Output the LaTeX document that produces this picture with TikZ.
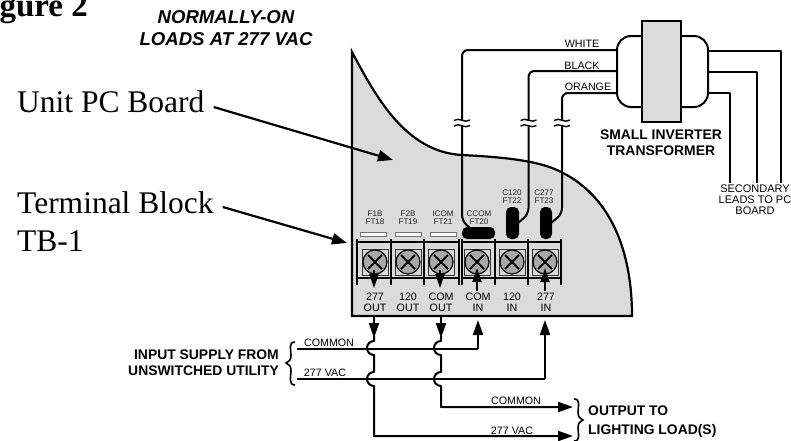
\documentclass[tikz,border=0pt]{standalone}
\usepackage{fontspec}
\setmainfont{Liberation Serif}
\setsansfont{Liberation Sans}
\usepackage{xcolor}
\usepackage{tikz}
\usetikzlibrary{arrows.meta, calc}
\definecolor{boardgray}{gray}{0.86}
\definecolor{screwgray}{gray}{0.66}
\newcommand{\fsize}[1]{\fontsize{#1}{#1}\selectfont}
\begin{document}
\begin{tikzpicture}[
    x=1pt, y=-1pt,
    wire/.style={line width=2pt, black, line join=round},
    feed/.style={wire, -{Triangle[length=15pt,width=10pt]}},
    callout/.style={line width=2.2pt, -{Triangle[length=15pt,width=11pt]}},
    bigtext/.style={font=\fsize{31.5}, anchor=base west, inner sep=0pt},
    heading/.style={font=\sffamily\bfseries\fsize{13.9}, inner sep=0pt, align=center},
    wirelabel/.style={font=\sffamily\fsize{10.7}, inner sep=0pt},
    termlabel/.style={font=\sffamily\fsize{10.7}, inner sep=0pt, align=center},
    ftlabel/.style={font=\sffamily\fsize{8.1}, text=black!85, inner sep=0pt, align=center},
    slot/.style={draw=black!55, line width=0.6pt, fill=white},
    blob/.style={fill=black, rounded corners=5pt},
    screw/.style={circle, draw=black, line width=1.2pt, fill=screwgray, minimum size=24pt, inner sep=0pt,
        path picture={\draw[line width=1.9pt] ($(path picture bounding box.center)+(-7,-7)$) -- ($(path picture bounding box.center)+(7,7)$)
            ($(path picture bounding box.center)+(7,-7)$) -- ($(path picture bounding box.center)+(-7,7)$);}},
    pad/.style={draw=black!80, line width=0.8pt, fill=black!15, minimum size=26pt, inner sep=0pt},
    post/.style={line width=2.8pt}
]
    \useasboundingbox (0,0) rectangle (791,440);
    \clip (0,0) rectangle (791,440);

    % board
    \draw[line width=2.2pt, fill=boardgray, line join=miter]
        (352,316) -- (352,52) .. controls (375,95) and (405,152) .. (462,155)
        .. controls (500,157) and (540,160) .. (563,173)
        .. controls (610,197) and (632,250) .. (632,316) -- cycle;

    % terminal block
    \foreach \tname/\tx in {a/375, b/408, c/441, d/477, e/512, f/545} {
        \node[pad] (pad\tname) at (\tx,262) {};
        \node[screw] (screw\tname) at (\tx,262) {};
    }
    \draw[line width=2.2pt] (357,242) -- (459,242) (357,278) -- (459,278) (462,242) -- (561,242) (462,278) -- (561,278);
    \foreach \px in {357,391,424,459,462,495,528,561}
        \draw[post] (\px,239) -- (\px,285);

    \foreach \sx in {373,408,443}
        \draw[slot] (\sx-13,232) rectangle (\sx+13,236);

    \node[ftlabel] (ftb) at (375,218) {F1B\\FT18};
    \node[ftlabel] (ftc) at (408,218) {F2B\\FT19};
    \node[ftlabel] (ftd) at (443,218) {ICOM\\FT21};
    \node[ftlabel] (fte) at (479,218) {CCOM\\FT20};
    \node[ftlabel] (ftf) at (512,197) {C120\\FT22};
    \node[ftlabel] (ftg) at (544,197) {C277\\FT23};

    \fill[blob] (462,227) rectangle (495,239);
    \fill[blob] (506,207) rectangle (519,239);
    \fill[blob] (540,207) rectangle (552,239);

    \node[termlabel] (outa) at (375,302) {277\\OUT};
    \node[termlabel] (outb) at (408,302) {120\\OUT};
    \node[termlabel] (outc) at (441,302) {COM\\OUT};
    \node[termlabel] (ina) at (478,302) {COM\\IN};
    \node[termlabel] (inb) at (512,302) {120\\IN};
    \node[termlabel] (inc) at (546,302) {277\\IN};

    % transformer
    \draw[wire, rounded corners=14pt] (642,36) -- (617,36) -- (617,107) -- (642,107);
    \draw[wire, rounded corners=14pt] (681,36) -- (708,36) -- (708,107) -- (681,107);
    \node[draw, line width=2pt, fill=boardgray, minimum width=39pt, minimum height=101pt, inner sep=0pt] (core) at (661.5,71.5) {};
    \node[heading] (xfmr) at (661,142.5) {SMALL INVERTER\\[2.5pt]TRANSFORMER};

    \draw[wire, rounded corners=6pt] (617,50) -- (462,50) -- (462,221) -- (470,228);
    \draw[wire, rounded corners=6pt] (617,71) -- (528.5,71) -- (528.5,214) -- (518,223);
    \draw[wire, rounded corners=6pt] (617,93) -- (562,93) -- (562,214) -- (551,223);

    % breaks in the leads
    \foreach \bx in {462,528.5,562} {
        \fill[white] (\bx-8,120.5) rectangle (\bx+8,125.5);
        \draw[line width=1.4pt] (\bx-8,120.5) .. controls (\bx-3,116.5) and (\bx+3,124) .. (\bx+8,120)
            (\bx-8,126) .. controls (\bx-3,122) and (\bx+3,129.5) .. (\bx+8,125.5);
    }

    \node[wirelabel] (white) at (582,44) {WHITE};
    \node[wirelabel] (black) at (582,66) {BLACK};
    \node[wirelabel] (orange) at (588,87) {ORANGE};

    \draw[wire] (708,51) -- (781,51) -- (781,183);
    \draw[wire] (708,72) -- (757,72) -- (757,183);
    \draw[wire] (708,93) -- (730,93) -- (730,183);
    \node[font=\sffamily\fsize{11}, inner sep=0pt, align=center] (secondary) at (755,200) {SECONDARY\\[0.2pt]LEADS TO PC\\[0.2pt]BOARD};

    % supply wiring
    \draw[wire] (297,349) -- (478,349);
    \draw[feed] (478,349) -- (478,320);
    \draw[wire] (297,379) -- (545,379);
    \draw[feed] (545,379) -- (545,320);

    \draw[feed] (374,317) -- (374,338);
    \draw[feed] (441,317) -- (441,338);
    \draw[feed] (374,336) -- (374,341) arc[start angle=-90, end angle=-270, radius=7] -- (374,372)
        arc[start angle=-90, end angle=-270, radius=7] -- (374,436) -- (573,436);
    \draw[feed] (441,336) -- (441,341) arc[start angle=-90, end angle=-270, radius=7] -- (441,372)
        arc[start angle=-90, end angle=-270, radius=7] -- (441,407) -- (573,407);

    % arrows on the screws
    \draw[wire, -{Triangle[length=14pt,width=9pt]}] (374,270) -- (374,288);
    \draw[wire, -{Triangle[length=14pt,width=9pt]}] (440,270) -- (440,288);
    \draw[wire, -{Triangle[length=14pt,width=9pt]}] (477,291) -- (477,268);
    \draw[wire, -{Triangle[length=14pt,width=9pt]}] (545,291) -- (545,268);

    \node[wirelabel] (comin) at (329,343) {COMMON};
    \node[wirelabel] (vacin) at (325,373) {277 VAC};
    \node[wirelabel] (comout) at (516,401) {COMMON};
    \node[wirelabel] (vacout) at (512,431) {277 VAC};

    % braces
    \draw[line width=1.6pt] (295,342) .. controls (288,342) and (291,350) .. (291,355)
        .. controls (291,360) and (289,362) .. (286,363) .. controls (289,364) and (291,366) .. (291,371)
        .. controls (291,376) and (288,385) .. (295,385);
    \draw[line width=1.6pt] (574,399) .. controls (581,399) and (578,407) .. (578,412)
        .. controls (578,417) and (580,419) .. (583,420) .. controls (580,421) and (578,423) .. (578,428)
        .. controls (578,433) and (581,441) .. (574,441);

    \node[heading, anchor=east, align=right] (supply) at (279,363) {INPUT SUPPLY FROM\\[2.2pt]UNSWITCHED UTILITY};
    \node[heading, anchor=west, align=left] (output) at (588,421.5) {OUTPUT TO\\[5.5pt]LIGHTING LOAD(S)};

    % title and callouts
    \node[font=\sffamily\bfseries\itshape\fsize{18.6}, inner sep=0pt, align=center] (title) at (226,28) {NORMALLY-ON\\[3pt]LOADS AT 277 VAC};
    \node[font=\bfseries\fsize{33}, anchor=base east, inner sep=0pt] (figure) at (88,16) {Figure 2};
    \node[bigtext] (unit) at (17,112) {Unit PC Board};
    \node[bigtext] (block) at (17,213) {Terminal Block};
    \node[bigtext] (tb) at (17,251) {TB-1};
    \coordinate (unittip) at (393,160);
    \coordinate (blocktip) at (347,243);
    \draw[callout] (unit.east |- 0,107) ++(9,0) -- (unittip);
    \draw[callout] (block.east |- 0,207) ++(9,0) -- (blocktip);
\end{tikzpicture}
\end{document}
